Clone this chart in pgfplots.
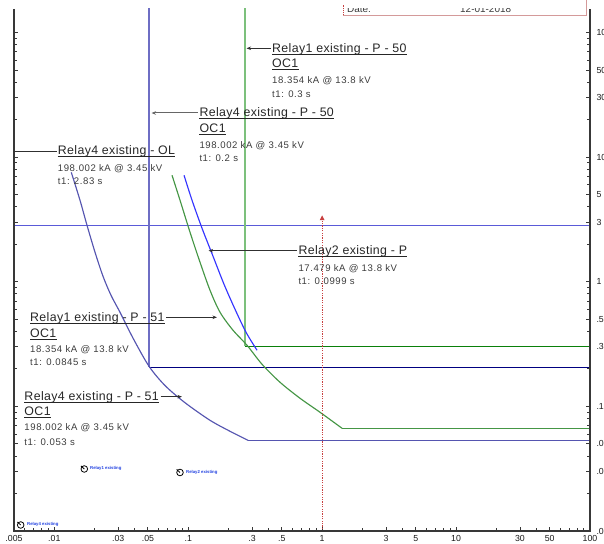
\documentclass[border=0pt]{standalone}
\usepackage{fontspec}
\setmainfont{Liberation Sans}
\newfontfamily\titfont[LetterSpace=3]{Liberation Sans}
\newfontfamily\detfont[LetterSpace=6]{Liberation Sans}
\usepackage{pgfplots}
\pgfplotsset{compat=1.18}
\usetikzlibrary{arrows.meta}
\definecolor{rfour}{HTML}{5555B0}
\definecolor{rfourv}{HTML}{6E6EC4}
\definecolor{navyc}{HTML}{000080}
\definecolor{rone}{HTML}{459645}
\definecolor{ronev}{HTML}{7CC07C}
\definecolor{dgreen}{HTML}{0A800A}
\definecolor{rtwo}{HTML}{3434FF}
\definecolor{olblue}{HTML}{5A5AD8}
\definecolor{redc}{HTML}{C84040}
\definecolor{txtA}{HTML}{262626}
\definecolor{txtB}{HTML}{3C3C3C}
\definecolor{arrc}{HTML}{303030}
\definecolor{tickc}{HTML}{383838}
\definecolor{hdr}{HTML}{D49A9A}
\definecolor{iconb}{HTML}{2040E0}
\begin{document}
\begin{tikzpicture}[
  tit/.style={font=\titfont\fontsize{12.4}{14}\selectfont, text=txtA, inner sep=0pt, anchor=base west},
  det/.style={font=\detfont\fontsize{9.6}{11}\selectfont, text=txtB, inner sep=0pt, anchor=base west},
  ul/.style={draw=txtA, line width=0.9bp},
  arr/.style={draw=arrc, line width=0.8bp, -{Stealth[length=4.5bp,width=3.5bp]}},
]
\useasboundingbox (0,0) rectangle (604bp,544bp);
\begin{axis}[
  name=ax, at={(14bp,13bp)}, anchor=south west, scale only axis,
  width=576bp, height=522bp,
  xmode=log, ymode=log, xmin=0.005, xmax=100, ymin=0.01, ymax=154.5,
  axis line style={draw=none},
  clip mode=individual,
  xtick={0.005,0.01,0.03,0.05,0.1,0.3,0.5,1,3,5,10,30,50,100},
  xticklabels={.005,.01,.03,.05,.1,.3,.5,1,3,5,10,30,50,100},
  minor xtick={0.006,0.007,0.008,0.009,0.02,0.04,0.06,0.07,0.08,0.09,0.2,0.4,0.6,0.7,0.8,0.9,2,4,6,7,8,9,20,40,60,70,80,90},
  ytick={0.01,0.03,0.05,0.1,0.3,0.5,1,3,5,10,30,50,100},
  yticklabels={.01,.03,.05,.1,.3,.5,1,3,5,10,30,50,100},
  minor ytick={0.02,0.04,0.06,0.07,0.08,0.09,0.2,0.4,0.6,0.7,0.8,0.9,2,4,6,7,8,9,20,40,60,70,80,90},
  xtick pos=left, yticklabel pos=right, ytick pos=both,
  tick align=inside,
  major tick length=4.5bp, minor tick length=3.2bp,
  every tick/.style={draw=tickc, line width=0.9bp},
  tick label style={font=\fontsize{8.8}{10}\selectfont, text=black!90},
  xticklabel style={yshift=-1.0bp},
  yticklabel style={xshift=3.0bp},
]
% Relay4 OL definite line
\addplot[draw=olblue, line width=1.6bp] coordinates {(0.005,2.83) (100,2.83)};
% Relay4 P-50
\addplot[color=rfourv, line width=1.5bp] coordinates {(0.05095,1000) (0.05095,0.206)};
\addplot[color=navyc, line width=1.1bp] coordinates {(0.05095,0.206) (100,0.206)};
% Relay1 P-50
\addplot[color=ronev, line width=1.9bp] coordinates {(0.2656,1000) (0.2656,0.303)};
\addplot[color=dgreen, line width=1.1bp] coordinates {(0.2656,0.303) (100,0.303)};
% Relay4 P-51
\addplot[color=rfour, line width=1.15bp, smooth, tension=0.5] coordinates {
(0.013390,7.55) (0.015554,4.510) (0.017543,2.841) (0.020138,1.725)
(0.023101,1.107) (0.026512,0.779) (0.030948,0.5691) (0.038705,0.3530)
(0.050948,0.2099) (0.067093,0.1470) (0.094632,0.1070) (0.14545,0.07733)
(0.20516,0.06312) (0.24360,0.05754) (0.27964,0.05343)};
\addplot[color=rfour, line width=1.15bp] coordinates {(0.27964,0.05343) (100,0.05343)};
% Relay1 P-51
\addplot[color=rone, line width=1.15bp, smooth, tension=0.5] coordinates {
(0.075673,7.157) (0.086841,4.510) (0.10313,2.4963) (0.12248,1.4338)
(0.14545,0.8546) (0.17277,0.5691) (0.21602,0.4081) (0.27486,0.3093)
(0.35563,0.2178) (0.48470,0.15612) (0.68393,0.11614) (0.96441,0.08966)
(1.4076,0.06672)};
\addplot[color=rone, line width=1.15bp] coordinates {(1.4076,0.06672) (100,0.06672)};
% Relay2 P
\addplot[color=rtwo, line width=1.15bp, smooth, tension=0.5] coordinates {
(0.093025,7.157) (0.10674,4.510) (0.12677,2.6883) (0.15315,1.6020)
(0.18503,0.9549) (0.22360,0.6015) (0.27019,0.3933) (0.32643,0.2820)};
% fault current marker
\addplot[color=redc, line width=1.3bp, dash pattern=on 1.2bp off 1.2bp, -{Triangle[length=5bp,width=4.5bp]}] coordinates {(1,0.0095) (1,3.42)};
\end{axis}
\draw[tickc, line width=1.3bp] (ax.north west) -- (ax.south west) -- (ax.south east) -- (ax.north east);
\begin{scope}[shift={(0bp,544bp)}, x=1bp, y=-1bp]
% header box
\node[font=\fontsize{10}{12}\selectfont, text=txtB, anchor=base west, inner sep=0] at (347,13) {Date:};
\node[font=\fontsize{10}{12}\selectfont, text=txtB, anchor=base west, inner sep=0] at (460,13) {12-01-2018};
\fill[white] (344,-5) rectangle (585,8.3);
\draw[hdr, line width=1bp] (343,15.5) -- (586,15.5) -- (586,-2);
\draw[redc, line width=1bp, dash pattern=on 1bp off 1bp] (343,15.5) -- (343,5);
% Relay1 P-50
\node[tit] (a1) at (272,52.5) {Relay1 existing - P - 50};
\draw[ul] ([yshift=-1.5bp]a1.base west) -- ([yshift=-1.5bp]a1.base east);
\node[tit] (a2) at (272,68) {OC1};
\draw[ul] ([yshift=-1.5bp]a2.base west) -- ([yshift=-1.5bp]a2.base east);
\node[det] at (272,84) {18.354 kA @ 13.8 kV};
\node[det] at (272,97.5) {t1: 0.3 s};
\draw[arr] (270.5,48.3) -- (246.5,48.3);
% Relay4 P-50
\node[tit] (b1) at (199.3,117) {Relay4 existing - P - 50};
\draw[ul] ([yshift=-1.5bp]b1.base west) -- ([yshift=-1.5bp]b1.base east);
\node[tit] (b2) at (199.3,133) {OC1};
\draw[ul] ([yshift=-1.5bp]b2.base west) -- ([yshift=-1.5bp]b2.base east);
\node[det] at (199.3,149) {198.002 kA @ 3.45 kV};
\node[det] at (199.3,162) {t1: 0.2 s};
\draw[arr, draw=gray!80!black, line width=1bp] (198,113) -- (151.5,113);
% Relay4 OL
\node[tit] (c1) at (57.7,155) {Relay4 existing - OL};
\draw[ul] ([yshift=-1.5bp]c1.base west) -- ([yshift=-1.5bp]c1.base east);
\node[det] at (57.7,171.5) {198.002 kA @ 3.45 kV};
\node[det] at (57.7,185) {t1: 2.83 s};
\draw[arrc, line width=0.9bp] (14,151) -- (56.5,151);
% Relay2 P
\node[tit] (d1) at (298.3,255) {Relay2 existing - P};
\draw[ul] ([yshift=-1.5bp]d1.base west) -- ([yshift=-1.5bp]d1.base east);
\node[det] at (298.3,271.5) {17.479 kA @ 13.8 kV};
\node[det] at (298.3,284.5) {t1: 0.0999 s};
\draw[arr] (296.5,250.7) -- (208.5,250.7);
% Relay1 P-51
\node[tit] (e1) at (30,321.5) {Relay1 existing - P - 51};
\draw[ul] ([yshift=-1.5bp]e1.base west) -- ([yshift=-1.5bp]e1.base east);
\node[tit] (e2) at (30,337.5) {OC1};
\draw[ul] ([yshift=-1.5bp]e2.base west) -- ([yshift=-1.5bp]e2.base east);
\node[det] at (30,353) {18.354 kA @ 13.8 kV};
\node[det] at (30,366) {t1: 0.0845 s};
\draw[arr] (166,317.3) -- (217,317.3);
% Relay4 P-51
\node[tit] (f1) at (24.3,401) {Relay4 existing - P - 51};
\draw[ul] ([yshift=-1.5bp]f1.base west) -- ([yshift=-1.5bp]f1.base east);
\node[tit] (f2) at (24.3,416) {OC1};
\draw[ul] ([yshift=-1.5bp]f2.base west) -- ([yshift=-1.5bp]f2.base east);
\node[det] at (24.3,431) {198.002 kA @ 3.45 kV};
\node[det] at (24.3,445.5) {t1: 0.053 s};
\draw[arr] (160.5,396.7) -- (182,396.7);
% small icons
\draw[black, line width=0.8bp] (84.3,469) circle (3.3);
\draw[black, line width=0.8bp] (84.3,469) -- (81,466);
\node[font=\bfseries\fontsize{4.3}{5}\selectfont, text=iconb, anchor=west, inner sep=0] at (90,468.5) {Relay1 existing};
\draw[black, line width=0.8bp] (180,472.5) circle (3.3);
\draw[black, line width=0.8bp] (180,472.5) -- (176.7,469.5);
\node[font=\bfseries\fontsize{4.3}{5}\selectfont, text=iconb, anchor=west, inner sep=0] at (186,472) {Relay2 existing};
\draw[black, line width=0.8bp] (20.7,525) circle (3.3);
\draw[black, line width=0.8bp] (20.7,525) -- (17.4,522);
\node[font=\bfseries\fontsize{4.3}{5}\selectfont, text=iconb, anchor=west, inner sep=0] at (27,524) {Relay4 existing};
\end{scope}
\end{tikzpicture}
\end{document}
